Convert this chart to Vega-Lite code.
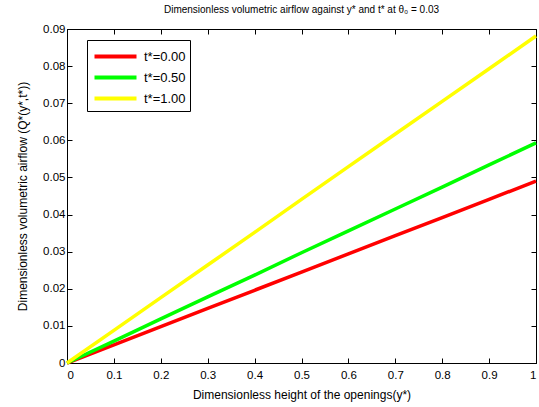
{
  "$schema": "https://vega.github.io/schema/vega-lite/v6.json",
  "autosize": {"type": "none"},
  "padding": {"left": 67, "top": 29, "right": 3, "bottom": 44},
  "width": 469,
  "height": 334,
  "background": "white",
  "title": {
    "text": "Dimensionless volumetric airflow against y* and t* at θ₀ = 0.03",
    "font": "Liberation Sans",
    "fontSize": 10,
    "fontWeight": "normal",
    "color": "black",
    "offset": 8
  },
  "config": {
    "view": {"stroke": "black", "strokeWidth": 1},
    "axis": {
      "grid": false,
      "domainColor": "black",
      "tickColor": "black",
      "labelColor": "black",
      "titleColor": "black",
      "labelFont": "Liberation Sans",
      "titleFont": "Liberation Sans",
      "labelFontSize": 11.5,
      "titleFontSize": 12,
      "titleFontWeight": "normal",
      "tickSize": -5
    }
  },
  "data": {
    "values": [
      {"y": 0, "q": 0, "t": "t*=0.00"},
      {"y": 0.1, "q": 0.0049, "t": "t*=0.00"},
      {"y": 0.2, "q": 0.0098, "t": "t*=0.00"},
      {"y": 0.3, "q": 0.0147, "t": "t*=0.00"},
      {"y": 0.4, "q": 0.0196, "t": "t*=0.00"},
      {"y": 0.5, "q": 0.0245, "t": "t*=0.00"},
      {"y": 0.6, "q": 0.0294, "t": "t*=0.00"},
      {"y": 0.7, "q": 0.0343, "t": "t*=0.00"},
      {"y": 0.8, "q": 0.0392, "t": "t*=0.00"},
      {"y": 0.9, "q": 0.0441, "t": "t*=0.00"},
      {"y": 1.0, "q": 0.049, "t": "t*=0.00"},
      {"y": 0, "q": 0, "t": "t*=0.50"},
      {"y": 0.1, "q": 0.0059, "t": "t*=0.50"},
      {"y": 0.2, "q": 0.0119, "t": "t*=0.50"},
      {"y": 0.3, "q": 0.0178, "t": "t*=0.50"},
      {"y": 0.4, "q": 0.0237, "t": "t*=0.50"},
      {"y": 0.5, "q": 0.0297, "t": "t*=0.50"},
      {"y": 0.6, "q": 0.0356, "t": "t*=0.50"},
      {"y": 0.7, "q": 0.0415, "t": "t*=0.50"},
      {"y": 0.8, "q": 0.0474, "t": "t*=0.50"},
      {"y": 0.9, "q": 0.0534, "t": "t*=0.50"},
      {"y": 1.0, "q": 0.0593, "t": "t*=0.50"},
      {"y": 0, "q": 0, "t": "t*=1.00"},
      {"y": 0.1, "q": 0.0088, "t": "t*=1.00"},
      {"y": 0.2, "q": 0.0176, "t": "t*=1.00"},
      {"y": 0.3, "q": 0.0264, "t": "t*=1.00"},
      {"y": 0.4, "q": 0.0352, "t": "t*=1.00"},
      {"y": 0.5, "q": 0.0441, "t": "t*=1.00"},
      {"y": 0.6, "q": 0.0529, "t": "t*=1.00"},
      {"y": 0.7, "q": 0.0617, "t": "t*=1.00"},
      {"y": 0.8, "q": 0.0705, "t": "t*=1.00"},
      {"y": 0.9, "q": 0.0793, "t": "t*=1.00"},
      {"y": 1.0, "q": 0.0881, "t": "t*=1.00"}
    ]
  },
  "layer": [
    {
      "mark": {"type": "line", "strokeWidth": 3.5},
      "encoding": {
        "x": {
          "field": "y", "type": "quantitative",
          "scale": {"domain": [0, 1], "nice": false},
          "axis": {"values": [0,0.1,0.2,0.3,0.4,0.5,0.6,0.7,0.8,0.9,1], "format": ".1~f", "labelPadding": 11, "title": "Dimensionless height of the openings(y*)", "titlePadding": 9}
        },
        "y": {
          "field": "q", "type": "quantitative",
          "scale": {"domain": [0, 0.09], "nice": false},
          "axis": {"values": [0,0.01,0.02,0.03,0.04,0.05,0.06,0.07,0.08,0.09], "format": ".2~f", "labelPadding": 7, "title": "Dimensionless volumetric airflow (Q*(y*,t*))", "titlePadding": 13}
        },
        "color": {
          "field": "t", "type": "nominal",
          "scale": {"domain": ["t*=0.00", "t*=0.50", "t*=1.00"], "range": ["#FF0000", "#00FF00", "#FFFF00"]},
          "legend": {
            "title": null,
            "orient": "none",
            "legendX": 20,
            "legendY": 11,
            "direction": "vertical",
            "symbolType": "M-2,0H2",
            "symbolStrokeWidth": 4,
            "symbolSize": 441,
            "symbolOffset": 12,
            "labelFont": "Liberation Sans",
            "labelFontSize": 13,
            "labelColor": "black",
            "strokeColor": "black",
            "fillColor": "white",
            "padding": 4,
            "rowPadding": 0,
            "labelOffset": 16
          }
        }
      }
    },
    {
      "mark": {"type": "line", "opacity": 0},
      "encoding": {
        "x": {"field": "y", "type": "quantitative", "scale": {"domain": [0, 1], "nice": false},
          "axis": {"orient": "top", "values": [0,0.1,0.2,0.3,0.4,0.5,0.6,0.7,0.8,0.9,1], "labels": false, "title": null}},
        "y": {"field": "q", "type": "quantitative", "scale": {"domain": [0, 0.09], "nice": false},
          "axis": {"orient": "right", "values": [0,0.01,0.02,0.03,0.04,0.05,0.06,0.07,0.08,0.09], "labels": false, "title": null}}
      }
    }
  ],
  "resolve": {"axis": {"x": "independent", "y": "independent"}}
}
